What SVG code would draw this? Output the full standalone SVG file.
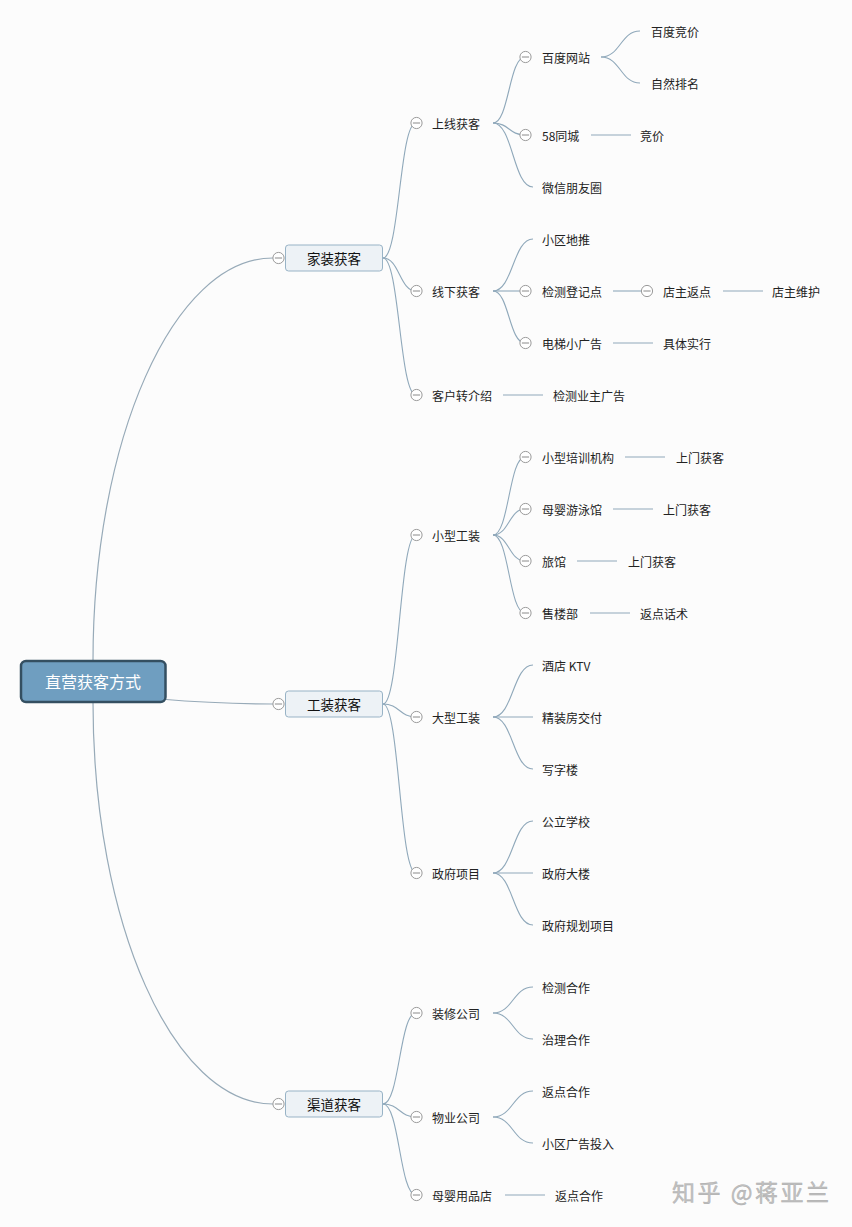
<svg xmlns="http://www.w3.org/2000/svg" width="852" height="1227" viewBox="0 0 852 1227">
<style>
.t{font-family:"Noto Sans CJK SC","Microsoft YaHei",sans-serif;font-size:12px;fill:#222;dominant-baseline:central}
.t1{font-family:"Noto Sans CJK SC",sans-serif;font-size:13.5px;fill:#111;dominant-baseline:central;text-anchor:middle}
.t0{font-family:"Noto Sans CJK SC",sans-serif;font-size:16px;fill:#fff;dominant-baseline:central;text-anchor:middle}
.c{fill:none;stroke:#8fa8ba;stroke-width:1.1}
.cr{fill:none;stroke:#97aab8;stroke-width:1.2}
.r1{fill:#edf2f6;stroke:#98b3c6;stroke-width:1}
.col circle{fill:#fff;stroke:#9a9a9a;stroke-width:1}
.col line{stroke:#8a8a8a;stroke-width:1}
.wm{font-family:"Noto Sans CJK SC",sans-serif;font-size:23px;fill:#c2c2c2;stroke:#a8a8a8;stroke-width:0.4}
</style>
<defs>
<g id="col" class="col"><circle cx="0" cy="0" r="5.6"/><line x1="-3.6" y1="0" x2="3.6" y2="0"/></g>
</defs>
<rect width="852" height="1227" fill="#fcfcfc"/>
<g id="connectors">
<path class="cr" d="M93,661 C93,440 173,258 273,258"/>
<path class="cr" d="M160,699 Q220,704 273,704"/>
<path class="cr" d="M93,702 C93,923 173,1104 273,1104"/>
<path class="c" d="M383,258 C399.5,258 399.5,123 416,123"/>
<path class="c" d="M383,258 C399.5,258 399.5,291 416,291"/>
<path class="c" d="M383,258 C399.5,258 399.5,395 416,395"/>
<path class="c" d="M383,704 C399.5,704 399.5,535 416,535"/>
<path class="c" d="M383,704 C399.5,704 399.5,717 416,717"/>
<path class="c" d="M383,704 C399.5,704 399.5,873 416,873"/>
<path class="c" d="M383,1104 C399.5,1104 399.5,1013 416,1013"/>
<path class="c" d="M383,1104 C399.5,1104 399.5,1117 416,1117"/>
<path class="c" d="M383,1104 C399.5,1104 399.5,1195 416,1195"/>
<path class="c" d="M493,123 C509,123 509,57 525,57"/>
<path class="c" d="M493,123 C509,123 509,135 525,135"/>
<path class="c" d="M493,123 C513,123 513,187 533,187"/>
<path class="c" d="M493,291 C513,291 513,239 533,239"/>
<path class="c" d="M493,291 L525,291"/>
<path class="c" d="M493,291 C509,291 509,343 525,343"/>
<path class="c" d="M503,395 L543,395"/>
<path class="c" d="M493,535 C509,535 509,457 525,457"/>
<path class="c" d="M493,535 C509,535 509,509 525,509"/>
<path class="c" d="M493,535 C509,535 509,561 525,561"/>
<path class="c" d="M493,535 C509,535 509,613 525,613"/>
<path class="c" d="M493,717 C513,717 513,665 533,665"/>
<path class="c" d="M493,717 L533,717"/>
<path class="c" d="M493,717 C513,717 513,769 533,769"/>
<path class="c" d="M493,873 C513,873 513,821 533,821"/>
<path class="c" d="M493,873 L533,873"/>
<path class="c" d="M493,873 C513,873 513,925 533,925"/>
<path class="c" d="M493,1013 C513,1013 513,987 533,987"/>
<path class="c" d="M493,1013 C513,1013 513,1039 533,1039"/>
<path class="c" d="M493,1117 C513,1117 513,1091 533,1091"/>
<path class="c" d="M493,1117 C513,1117 513,1143 533,1143"/>
<path class="c" d="M505,1195 L545,1195"/>
<path class="c" d="M601,57 C620.5,57 620.5,31 640,31"/>
<path class="c" d="M601,57 C620.5,57 620.5,83 640,83"/>
<path class="c" d="M591,135 L631,135"/>
<path class="c" d="M613,291 L641,291"/>
<path class="c" d="M723,291 L763,291"/>
<path class="c" d="M613,343 L653,343"/>
<path class="c" d="M625,457 L665,457"/>
<path class="c" d="M613,509 L653,509"/>
<path class="c" d="M577,561 L617,561"/>
<path class="c" d="M590,613 L630,613"/>
</g>
<g id="root">
<rect x="21" y="661" width="144.5" height="41" rx="5" fill="#6f9ec0" stroke="#344f61" stroke-width="2.5"/>
<text class="t0" x="93" y="681">直营获客方式</text>
</g>
<g id="n-jiazhuang">
<use href="#col" x="278.5" y="258"/>
<rect class="r1" x="285.5" y="245" width="97" height="26" rx="3"/>
<text class="t1" x="334" y="258">家装获客</text>
</g>
<g id="n-gongzhuang">
<use href="#col" x="278.5" y="704"/>
<rect class="r1" x="285.5" y="691" width="97" height="26" rx="3"/>
<text class="t1" x="334" y="704">工装获客</text>
</g>
<g id="n-qudao">
<use href="#col" x="278.5" y="1104"/>
<rect class="r1" x="285.5" y="1091" width="97" height="26" rx="3"/>
<text class="t1" x="334" y="1104">渠道获客</text>
</g>
<g id="n-shangxian"><use href="#col" x="416.5" y="123"/><text class="t" x="432" y="123">上线获客</text></g>
<g id="n-xianxia"><use href="#col" x="416.5" y="291"/><text class="t" x="432" y="291">线下获客</text></g>
<g id="n-kehu"><use href="#col" x="416.5" y="395"/><text class="t" x="432" y="395">客户转介绍</text></g>
<g id="n-xiaoxing"><use href="#col" x="416.5" y="535"/><text class="t" x="432" y="535">小型工装</text></g>
<g id="n-daxing"><use href="#col" x="416.5" y="717"/><text class="t" x="432" y="717">大型工装</text></g>
<g id="n-zhengfu"><use href="#col" x="416.5" y="873"/><text class="t" x="432" y="873">政府项目</text></g>
<g id="n-zhuangxiu"><use href="#col" x="416.5" y="1013"/><text class="t" x="432" y="1013">装修公司</text></g>
<g id="n-wuye"><use href="#col" x="416.5" y="1117"/><text class="t" x="432" y="1117">物业公司</text></g>
<g id="n-muying"><use href="#col" x="416.5" y="1195"/><text class="t" x="432" y="1195">母婴用品店</text></g>
<g id="n-baidu"><use href="#col" x="525.5" y="57"/><text class="t" x="542" y="57">百度网站</text></g>
<g id="n-58"><use href="#col" x="525.5" y="135"/><text class="t" x="542" y="135">58同城</text></g>
<g id="n-weixin"><text class="t" x="542" y="187">微信朋友圈</text></g>
<g id="n-xiaoqu"><text class="t" x="542" y="239">小区地推</text></g>
<g id="n-jiance"><use href="#col" x="525.5" y="291"/><text class="t" x="542" y="291">检测登记点</text></g>
<g id="n-dianti"><use href="#col" x="525.5" y="343"/><text class="t" x="542" y="343">电梯小广告</text></g>
<g id="n-jianceyezhu"><text class="t" x="553" y="395">检测业主广告</text></g>
<g id="n-peixun"><use href="#col" x="525.5" y="457"/><text class="t" x="542" y="457">小型培训机构</text></g>
<g id="n-youyong"><use href="#col" x="525.5" y="509"/><text class="t" x="542" y="509">母婴游泳馆</text></g>
<g id="n-lvguan"><use href="#col" x="525.5" y="561"/><text class="t" x="542" y="561">旅馆</text></g>
<g id="n-shoulou"><use href="#col" x="525.5" y="613"/><text class="t" x="542" y="613">售楼部</text></g>
<g id="n-jiudian"><text class="t" x="542" y="665">酒店 KTV</text></g>
<g id="n-jingzhuang"><text class="t" x="542" y="717">精装房交付</text></g>
<g id="n-xiezilou"><text class="t" x="542" y="769">写字楼</text></g>
<g id="n-gongli"><text class="t" x="542" y="821">公立学校</text></g>
<g id="n-dalou"><text class="t" x="542" y="873">政府大楼</text></g>
<g id="n-guihua"><text class="t" x="542" y="925">政府规划项目</text></g>
<g id="n-jiancehz"><text class="t" x="542" y="987">检测合作</text></g>
<g id="n-zhili"><text class="t" x="542" y="1039">治理合作</text></g>
<g id="n-fandian1"><text class="t" x="542" y="1091">返点合作</text></g>
<g id="n-xiaoquguanggao"><text class="t" x="542" y="1143">小区广告投入</text></g>
<g id="n-fandian2"><text class="t" x="555" y="1195">返点合作</text></g>
<g id="n-baidujingjia"><text class="t" x="651" y="31">百度竞价</text></g>
<g id="n-ziran"><text class="t" x="651" y="83">自然排名</text></g>
<g id="n-jingjia"><text class="t" x="640" y="135">竞价</text></g>
<g id="n-dianzhufandian"><use href="#col" x="647" y="291"/><text class="t" x="663" y="291">店主返点</text></g>
<g id="n-dianzhuweihu"><text class="t" x="772" y="291">店主维护</text></g>
<g id="n-juti"><text class="t" x="663" y="343">具体实行</text></g>
<g id="n-shangmen1"><text class="t" x="676" y="457">上门获客</text></g>
<g id="n-shangmen2"><text class="t" x="663" y="509">上门获客</text></g>
<g id="n-shangmen3"><text class="t" x="628" y="561">上门获客</text></g>
<g id="n-fandianhuashu"><text class="t" x="640" y="613">返点话术</text></g>
<text class="wm" x="672" y="1201" textLength="157">知乎 @蒋亚兰</text>
</svg>
